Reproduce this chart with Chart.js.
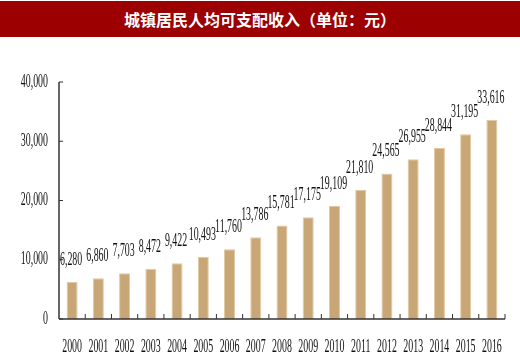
<!DOCTYPE html>
<html>
<head>
<meta charset="utf-8">
<script src="https://cdn.jsdelivr.net/npm/chart.js@4.4.1/dist/chart.umd.min.js"></script>
<style>
  html,body{margin:0;padding:0;background:#fff;}
  #wrap{position:relative;width:520px;height:360px;}
  #title{position:absolute;left:0;top:1px;width:520px;height:36px;background:#9C0000;color:#fff;
    font-family:"Noto Sans CJK SC",sans-serif;font-weight:700;font-size:16px;line-height:36px;text-align:center;}
  canvas{position:absolute;left:0;top:0;}
</style>
</head>
<body>
<div id="wrap">
<canvas id="c" width="520" height="360"></canvas>
<div id="title">城镇居民人均可支配收入（单位：元）</div>
</div>
<script>
const titleText = "城镇居民人均可支配收入（单位：元）";
const years = ["2000","2001","2002","2003","2004","2005","2006","2007","2008","2009","2010","2011","2012","2013","2014","2015","2016"];
const income = [6280,6860,7703,8472,9422,10493,11760,13786,15781,17175,19109,21810,24565,26955,28844,31195,33616];
const yTickValues = [0,10000,20000,30000,40000];
const yTickLabels = ["0","10,000","20,000","30,000","40,000"];

const FONT = '18px "Liberation Serif", "Times New Roman", serif';
const SX = 0.55;

function squishText(ctx, text, x, y, align) {
  ctx.save();
  ctx.font = FONT;
  ctx.textBaseline = 'middle';
  ctx.textAlign = align;
  ctx.translate(x, y);
  ctx.scale(SX, 1);
  ctx.fillText(text, 0, 0);
  ctx.restore();
}

const axesPlugin = {
  id: 'axesPlugin',
  afterDatasetsDraw(chart) {
    const ctx = chart.ctx;
    const xs = chart.scales.x, ys = chart.scales.y;
    const area = chart.chartArea;
    const y0 = ys.getPixelForValue(0);
    const yTop = ys.getPixelForValue(yTickValues[yTickValues.length-1]);
    const step = xs.getPixelForValue(1) - xs.getPixelForValue(0);
    ctx.save();
    ctx.strokeStyle = '#333';
    ctx.lineWidth = 1.5;
    ctx.beginPath();
    ctx.moveTo(area.left, yTop);
    ctx.lineTo(area.left, y0);
    ctx.stroke();
    ctx.beginPath();
    ctx.moveTo(area.left, y0);
    ctx.lineTo(area.right, y0);
    ctx.stroke();
    ctx.lineWidth = 1;
    yTickValues.forEach((v) => {
      const py = ys.getPixelForValue(v);
      ctx.beginPath();
      ctx.moveTo(area.left, py);
      ctx.lineTo(area.left + 4, py);
      ctx.stroke();
    });
    for (let i = 0; i < years.length; i++) {
      const px = xs.getPixelForValue(i) + step / 2;
      ctx.beginPath();
      ctx.moveTo(px, y0);
      ctx.lineTo(px, y0 - 5);
      ctx.stroke();
    }
    ctx.fillStyle = '#111';
    yTickValues.forEach((v, i) => {
      squishText(ctx, yTickLabels[i], area.left - 11, ys.getPixelForValue(v), 'right');
    });
    years.forEach((yr, i) => {
      squishText(ctx, yr, xs.getPixelForValue(i), y0 + 28, 'center');
    });
    const meta = chart.getDatasetMeta(0);
    meta.data.forEach((bar, i) => {
      squishText(ctx, income[i].toLocaleString('en-US'), bar.x - 1, bar.y - 22, 'center');
    });
    ctx.restore();
  }
};

new Chart(document.getElementById('c'), {
  type: 'bar',
  data: {
    labels: years,
    datasets: [{
      data: income,
      backgroundColor: '#C9A676',
      borderColor: '#E2C9A2',
      borderWidth: 1,
      categoryPercentage: 1.0,
      barPercentage: 0.42
    }]
  },
  options: {
    responsive: false,
    animation: false,
    layout: { padding: { left: 59, right: 15, top: 82, bottom: 41 } },
    plugins: { legend: { display: false }, tooltip: { enabled: false }, title: { display: false } },
    scales: {
      x: { display: false, offset: true },
      y: { display: false, min: 0, max: 40000 }
    }
  },
  plugins: [axesPlugin]
});
</script>
</body>
</html>
